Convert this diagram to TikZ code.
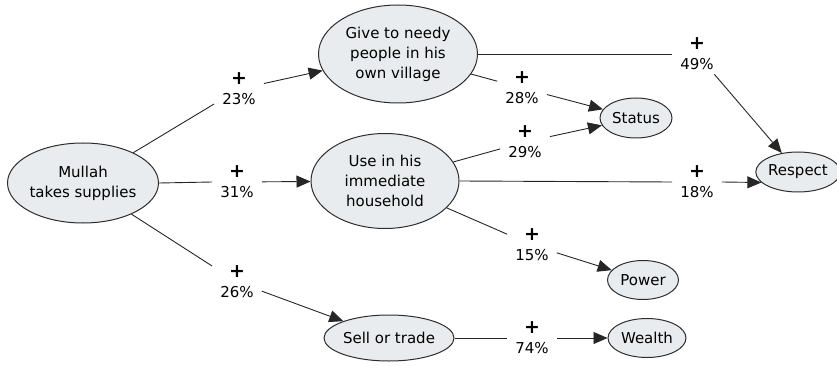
\documentclass[tikz,border=0pt]{standalone}
\usepackage{fontspec}
\setmainfont{DejaVu Sans}
\usepackage{xcolor}
\usetikzlibrary{arrows.meta}
\usetikzlibrary{shapes.geometric}

\definecolor{conceptfill}{RGB}{232,236,238}
\definecolor{conceptline}{RGB}{45,45,45}
\newcommand{\plussign}{{\fontsize{19}{19}\selectfont\textbf{+}}}

\begin{document}
\begin{tikzpicture}[x=1pt,y=-1pt,
  concept/.style={ellipse,draw=conceptline,fill=conceptfill,line width=1pt,
    align=center,inner sep=0pt,font=\fontsize{15}{20}\selectfont},
  link/.style={rectangle,align=center,inner xsep=8pt,inner ysep=4pt,
    font=\fontsize{15}{20}\selectfont},
  plain/.style={draw=black!85,line width=0.9pt},
  toarrow/.style={plain,-{Triangle[length=14pt,width=12pt]}}]
\useasboundingbox (0,0) rectangle (837,366);
% concepts
\node[concept,minimum width=147pt,minimum height=80pt] (mullah) at (83,183) {Mullah\\takes supplies};
\node[concept,minimum width=159pt,minimum height=98pt] (give) at (398,54) {Give to needy\\people in his\\own village};
\node[concept,minimum width=148pt,minimum height=95pt] (use) at (385,181) {Use in his\\immediate\\household};
\node[concept,minimum width=127pt,minimum height=46pt] (sell) at (389,338) {Sell or trade};
\node[concept,minimum width=72pt,minimum height=40pt] (status) at (636,118) {Status};
\node[concept,minimum width=78pt,minimum height=40pt] (respect) at (798,172) {Respect};
\node[concept,minimum width=71pt,minimum height=39pt] (power) at (643,280) {Power};
\node[concept,minimum width=78pt,minimum height=39pt] (wealth) at (647,338) {Wealth};
% link labels
\node[link] (l23) at (239,89) {\plussign\\23\%};
\node[link] (l31) at (237,182) {\plussign\\31\%};
\node[link] (l26) at (237,282) {\plussign\\26\%};
\node[link] (l49) at (697,54) {\plussign\\49\%};
\node[link] (l28) at (522,88) {\plussign\\28\%};
\node[link] (l29) at (525,142) {\plussign\\29\%};
\node[link] (l18) at (697,182) {\plussign\\18\%};
\node[link] (l15) at (532,245) {\plussign\\15\%};
\node[link] (l74) at (532,338) {\plussign\\74\%};
% connectors
\draw[plain] (mullah) -- (l23);
\draw[toarrow] (l23) -- (give);
\draw[plain] (mullah.east) -- (l31.west);
\draw[toarrow] (l31) -- (use);
\draw[plain] (mullah) -- (l26);
\draw[toarrow] (l26) -- (sell);
\draw[plain] (give.east) -- (l49.west);
\draw[toarrow] (l49) -- (respect);
\draw[plain] (give) -- (l28);
\draw[toarrow] (l28) -- (status);
\draw[plain] (use) -- (l29);
\draw[toarrow] (l29) -- (status);
\draw[plain] (use.east) -- (l18.west);
\draw[toarrow] (l18.east) -- (respect.196);
\draw[plain] (use) -- (l15);
\draw[toarrow] (l15) -- (power);
\draw[plain] (sell) -- (l74);
\draw[toarrow] (l74) -- (wealth);
\end{tikzpicture}
\end{document}
